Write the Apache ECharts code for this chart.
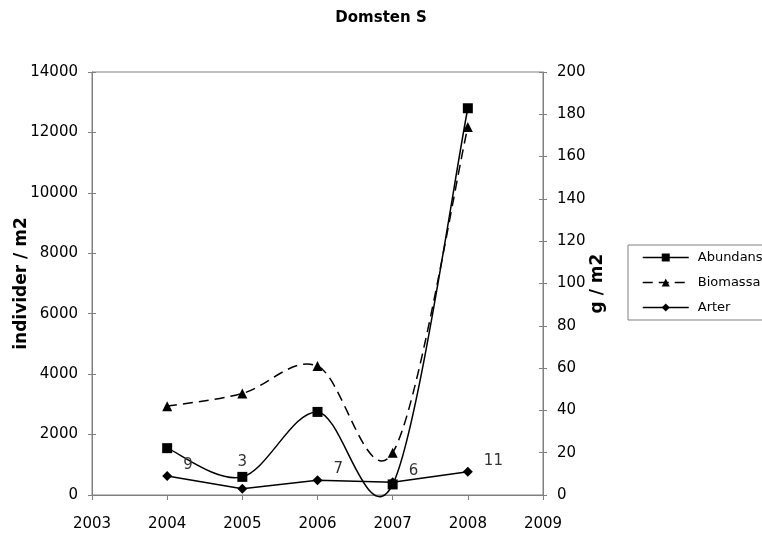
<!DOCTYPE html>
<html>
<head>
<meta charset="utf-8">
<script src="https://cdn.jsdelivr.net/npm/echarts@6/dist/echarts.min.js"></script>
<style>
  html, body { margin: 0; padding: 0; background: #fff; }
  #chart { width: 762px; height: 535px; }
</style>
</head>
<body>
<div id="chart"></div>
<script>
// Sampling years
const years = [2004, 2005, 2006, 2007, 2008];
// Abundance (individuals per m2), left axis
const abundans = [1550, 600, 2750, 350, 12800];
// Biomass (g per m2), right axis
const biomassa = [42, 48, 61, 20, 174];
// Number of species, right axis, labelled
const arter = [9, 3, 7, 6, 11];

const FONT = 'DejaVu Sans';
const AXIS_GREY = '#808080';
const LINE_W = 1.5;
const DASH = [10, 6];

const pairs = (xs, ys) => xs.map((x, i) => [x, ys[i]]);

// Cardinal (Catmull-Rom) spline through the points, drawn in pixel space
// after converting each value with the axis scales.
function splineSeries(name, yAxisIndex, xs, ys, dash) {
  return {
    name: name + ' (kurva)',
    type: 'custom',
    coordinateSystem: 'cartesian2d',
    yAxisIndex: yAxisIndex,
    data: pairs(xs, ys),
    silent: true,
    z: 2,
    renderItem: function (params, api) {
      if (params.dataIndex !== 0) return null;
      const p = xs.map((x, i) => api.coord([x, ys[i]]));
      const n = p.length;
      let d = 'M' + p[0][0] + ',' + p[0][1];
      for (let i = 0; i < n - 1; i++) {
        const p0 = p[Math.max(i - 1, 0)];
        const p1 = p[i];
        const p2 = p[i + 1];
        const p3 = p[Math.min(i + 2, n - 1)];
        const c1x = p1[0] + (p2[0] - p0[0]) / 6;
        const c1y = p1[1] + (p2[1] - p0[1]) / 6;
        const c2x = p2[0] - (p3[0] - p1[0]) / 6;
        const c2y = p2[1] - (p3[1] - p1[1]) / 6;
        d += ' C' + c1x + ',' + c1y + ' ' + c2x + ',' + c2y + ' ' + p2[0] + ',' + p2[1];
      }
      return {
        type: 'path',
        shape: { pathData: d },
        style: {
          fill: null, stroke: '#000', lineWidth: LINE_W,
          lineDash: dash || null
        }
      };
    }
  };
}

const arterData = pairs(years, arter).map((p, i) => ({
  value: p,
  label: i === 1
    ? { position: 'top', distance: 14 }
    : { position: 'right', offset: [6, -11] }
}));

const chart = echarts.init(document.getElementById('chart'), null, { renderer: 'canvas' });

const plain = v => String(v);

const baseY = {
  type: 'value',
  splitLine: { show: false },
  axisLine: { show: true, lineStyle: { color: AXIS_GREY, width: 1 } },
  axisTick: { show: true, length: 4, lineStyle: { color: AXIS_GREY } },
  axisLabel: { color: '#000', fontFamily: FONT, fontSize: 15, margin: 14, formatter: plain }
};

const nameStyle = { fontFamily: FONT, fontWeight: 'bold', fontSize: 17, color: '#000' };

chart.setOption({
  animation: false,
  backgroundColor: '#fff',
  title: {
    text: 'Domsten S',
    left: 'center',
    top: 6,
    textStyle: { fontFamily: FONT, fontWeight: 'bold', fontSize: 15, color: '#000' }
  },
  grid: {
    left: 92, right: 219, top: 72, bottom: 40,
    containLabel: false, outerBoundsMode: 'none',
    show: true, borderColor: AXIS_GREY, borderWidth: 1, backgroundColor: '#fff'
  },
  legend: {
    orient: 'vertical',
    left: 628, top: 245,
    itemWidth: 46, itemHeight: 10, itemGap: 12,
    padding: [6, 30, 6, 14],
    borderColor: AXIS_GREY, borderWidth: 1,
    textStyle: { fontFamily: FONT, fontSize: 13, color: '#000', padding: [0, 0, 0, 4] },
    data: [
      { name: 'Abundans', lineStyle: { opacity: 1, width: LINE_W, color: '#000', type: 'solid' } },
      { name: 'Biomassa', lineStyle: { opacity: 1, width: LINE_W, color: '#000', type: DASH } },
      { name: 'Arter', lineStyle: { opacity: 1, width: LINE_W, color: '#000', type: 'solid' } }
    ]
  },
  xAxis: {
    type: 'value',
    min: 2003, max: 2009, interval: 1,
    splitLine: { show: false },
    axisLine: { show: true, onZero: false, lineStyle: { color: AXIS_GREY } },
    axisTick: { show: true, length: 5, lineStyle: { color: AXIS_GREY } },
    axisLabel: { color: '#000', fontFamily: FONT, fontSize: 15, margin: 22, formatter: plain }
  },
  yAxis: [
    Object.assign({}, baseY, {
      position: 'left', min: 0, max: 14000, interval: 2000,
      name: 'individer / m2', nameLocation: 'middle', nameGap: 62, nameRotate: 90,
      nameMoveOverlap: false,
      nameTextStyle: nameStyle
    }),
    Object.assign({}, baseY, {
      position: 'right', min: 0, max: 200, interval: 20,
      name: 'g / m2', nameLocation: 'middle', nameGap: 46, nameRotate: 90,
      nameMoveOverlap: false,
      nameTextStyle: nameStyle
    }),
    // inner halves of the crossing tick marks
    Object.assign({}, baseY, {
      position: 'left', min: 0, max: 14000, interval: 2000,
      axisLine: { show: false }, axisLabel: { show: false },
      axisTick: { show: true, inside: true, length: 4, lineStyle: { color: AXIS_GREY } }
    }),
    Object.assign({}, baseY, {
      position: 'right', min: 0, max: 200, interval: 20,
      axisLine: { show: false }, axisLabel: { show: false },
      axisTick: { show: true, inside: true, length: 4, lineStyle: { color: AXIS_GREY } }
    })
  ],
  series: [
    splineSeries('Abundans', 0, years, abundans, null),
    splineSeries('Biomassa', 1, years, biomassa, DASH),
    {
      name: 'Abundans', type: 'line', yAxisIndex: 0, z: 3,
      data: pairs(years, abundans),
      symbol: 'rect', symbolSize: 10,
      lineStyle: { color: '#000', width: LINE_W, opacity: 0 },
      itemStyle: { color: '#000' }
    },
    {
      name: 'Biomassa', type: 'line', yAxisIndex: 1, z: 3,
      data: pairs(years, biomassa),
      symbol: 'triangle', symbolSize: 10,
      lineStyle: { color: '#000', width: LINE_W, type: DASH, opacity: 0 },
      itemStyle: { color: '#000' }
    },
    {
      name: 'Arter', type: 'line', yAxisIndex: 1, z: 3,
      data: arterData,
      symbol: 'diamond', symbolSize: 10,
      lineStyle: { color: '#000', width: LINE_W },
      itemStyle: { color: '#000' },
      label: {
        show: true, color: '#333', fontFamily: FONT, fontSize: 15,
        formatter: p => p.value[1]
      }
    }
  ]
});
</script>
</body>
</html>
